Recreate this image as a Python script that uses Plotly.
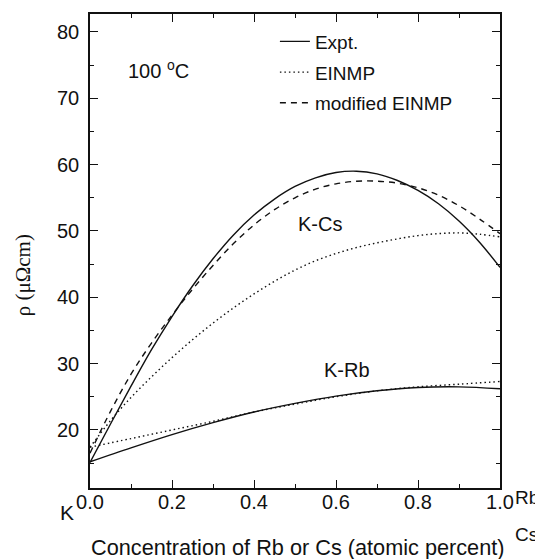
import plotly.graph_objects as go

# ---- data ----
x_grid = [0.0, 0.05, 0.1, 0.15, 0.2, 0.25, 0.3, 0.35, 0.4, 0.45, 0.5,
          0.55, 0.6, 0.65, 0.7, 0.75, 0.8, 0.85, 0.9, 0.95, 1.0]

kcs_expt = [15.1, 20.9, 26.6, 32.1, 37.1, 41.7, 45.8, 49.4, 52.4, 54.8, 56.7,
            58.0, 58.8, 59.0, 58.6, 57.6, 56.1, 54.1, 51.5, 48.3, 44.5]
kcs_einmp = [17.4, 21.4, 24.9, 28.0, 30.9, 33.6, 36.1, 38.4, 40.5, 42.4, 44.1,
             45.5, 46.6, 47.5, 48.2, 48.8, 49.3, 49.6, 49.7, 49.5, 49.1]
kcs_mod = [16.5, 22.8, 28.4, 33.1, 37.3, 41.2, 44.8, 48.1, 50.9, 53.2, 55.0,
           56.3, 57.1, 57.5, 57.5, 57.2, 56.5, 55.4, 53.8, 51.8, 49.6]

x_rb = [0.0, 0.1, 0.2, 0.3, 0.4, 0.5, 0.6, 0.7, 0.8, 0.9, 1.0]
krb_expt = [15.2, 17.3, 19.3, 21.1, 22.7, 24.0, 25.1, 25.9, 26.4, 26.5, 26.2]
krb_einmp = [17.4, 18.7, 20.0, 21.3, 22.7, 23.9, 25.0, 25.9, 26.5, 26.9, 27.3]

x_ticks = [0.0, 0.2, 0.4, 0.6, 0.8, 1.0]
y_ticks = [20, 30, 40, 50, 60, 70, 80]

FONT = "Liberation Sans, Arial, Helvetica, sans-serif"
INK = "#111111"
DOT = "1.5px,3px"
DASH = "6px,5px"

fig = go.Figure()

def add(x, y, dash, name, show, group):
    fig.add_trace(go.Scatter(
        x=x, y=y, mode="lines", name=name, showlegend=show, legendgroup=group,
        line=dict(color=INK, width=1.4, dash=dash, shape="spline", smoothing=1.0),
        hoverinfo="skip"))

add(x_grid, kcs_expt, "solid", "Expt.", True, "g1")
add(x_grid, kcs_einmp, DOT, "EINMP", True, "g2")
add(x_grid, kcs_mod, DASH, "modified EINMP", True, "g3")
add(x_rb, krb_expt, "solid", "Expt.", False, "g1")
add(x_rb, krb_einmp, DOT, "EINMP", False, "g2")

axis_common = dict(
    showline=True, linecolor=INK, linewidth=1.5, mirror="ticks",
    ticks="inside", ticklen=8, tickwidth=1.2, tickcolor=INK,
    showgrid=False, zeroline=False,
    tickfont=dict(family=FONT, size=20, color=INK),
)

fig.update_xaxes(range=[0, 1], tickvals=x_ticks, tickformat=".1f",
                 minor=dict(dtick=0.1, ticks="inside", ticklen=4, tickcolor=INK, tickwidth=1.2),
                 ticklabelstandoff=-5, **axis_common)
fig.update_yaxes(range=[11.25, 82.7], tickvals=y_ticks,
                 minor=dict(dtick=5, ticks="inside", ticklen=4, tickcolor=INK, tickwidth=1.2),
                 ticklabelstandoff=5, **axis_common)

def pa(text, x, y, size=20, **kw):
    d = dict(text=text, x=x, y=y, xref="paper", yref="paper", showarrow=False,
             xanchor="center", yanchor="middle", font=dict(size=size))
    d.update(kw)
    return d

ann = [
    pa("Concentration of Rb or Cs (atomic percent)", 0.507, -0.126, size=21.7),
    pa("ρ (μΩcm)", -0.163, 0.449, textangle=-90,
       font=dict(size=21, family="Liberation Serif, Times New Roman, serif")),
    pa("K", -0.056, -0.052, size=21),
    pa("Rb", 1.067, -0.019, size=19),
    pa("Cs", 1.064, -0.099, size=19),
    dict(text="K-Cs", x=0.56, y=51.0, xref="x", yref="y", showarrow=False,
         xanchor="center", yanchor="middle", font=dict(size=20)),
    dict(text="K-Rb", x=0.626, y=29.0, xref="x", yref="y", showarrow=False,
         xanchor="center", yanchor="middle", font=dict(size=20)),
    dict(text="100 <sup>o</sup>C", x=0.167, y=74.3, xref="x", yref="y", showarrow=False,
         xanchor="center", yanchor="middle", font=dict(size=20)),
]

# the page body adds an 8px offset, so the figure is 8px smaller on each axis
fig.update_layout(
    width=535, height=551,
    margin=dict(l=82, r=42.5, t=4, b=71, pad=0),
    paper_bgcolor="white", plot_bgcolor="white",
    font=dict(family=FONT, color=INK, size=20),
    annotations=ann,
    legend=dict(x=0.451, y=0.982, xanchor="left", yanchor="top",
                bgcolor="rgba(0,0,0,0)", borderwidth=0,
                font=dict(size=19, family=FONT, color=INK),
                tracegroupgap=3),
)

fig.write_html("out.html")
